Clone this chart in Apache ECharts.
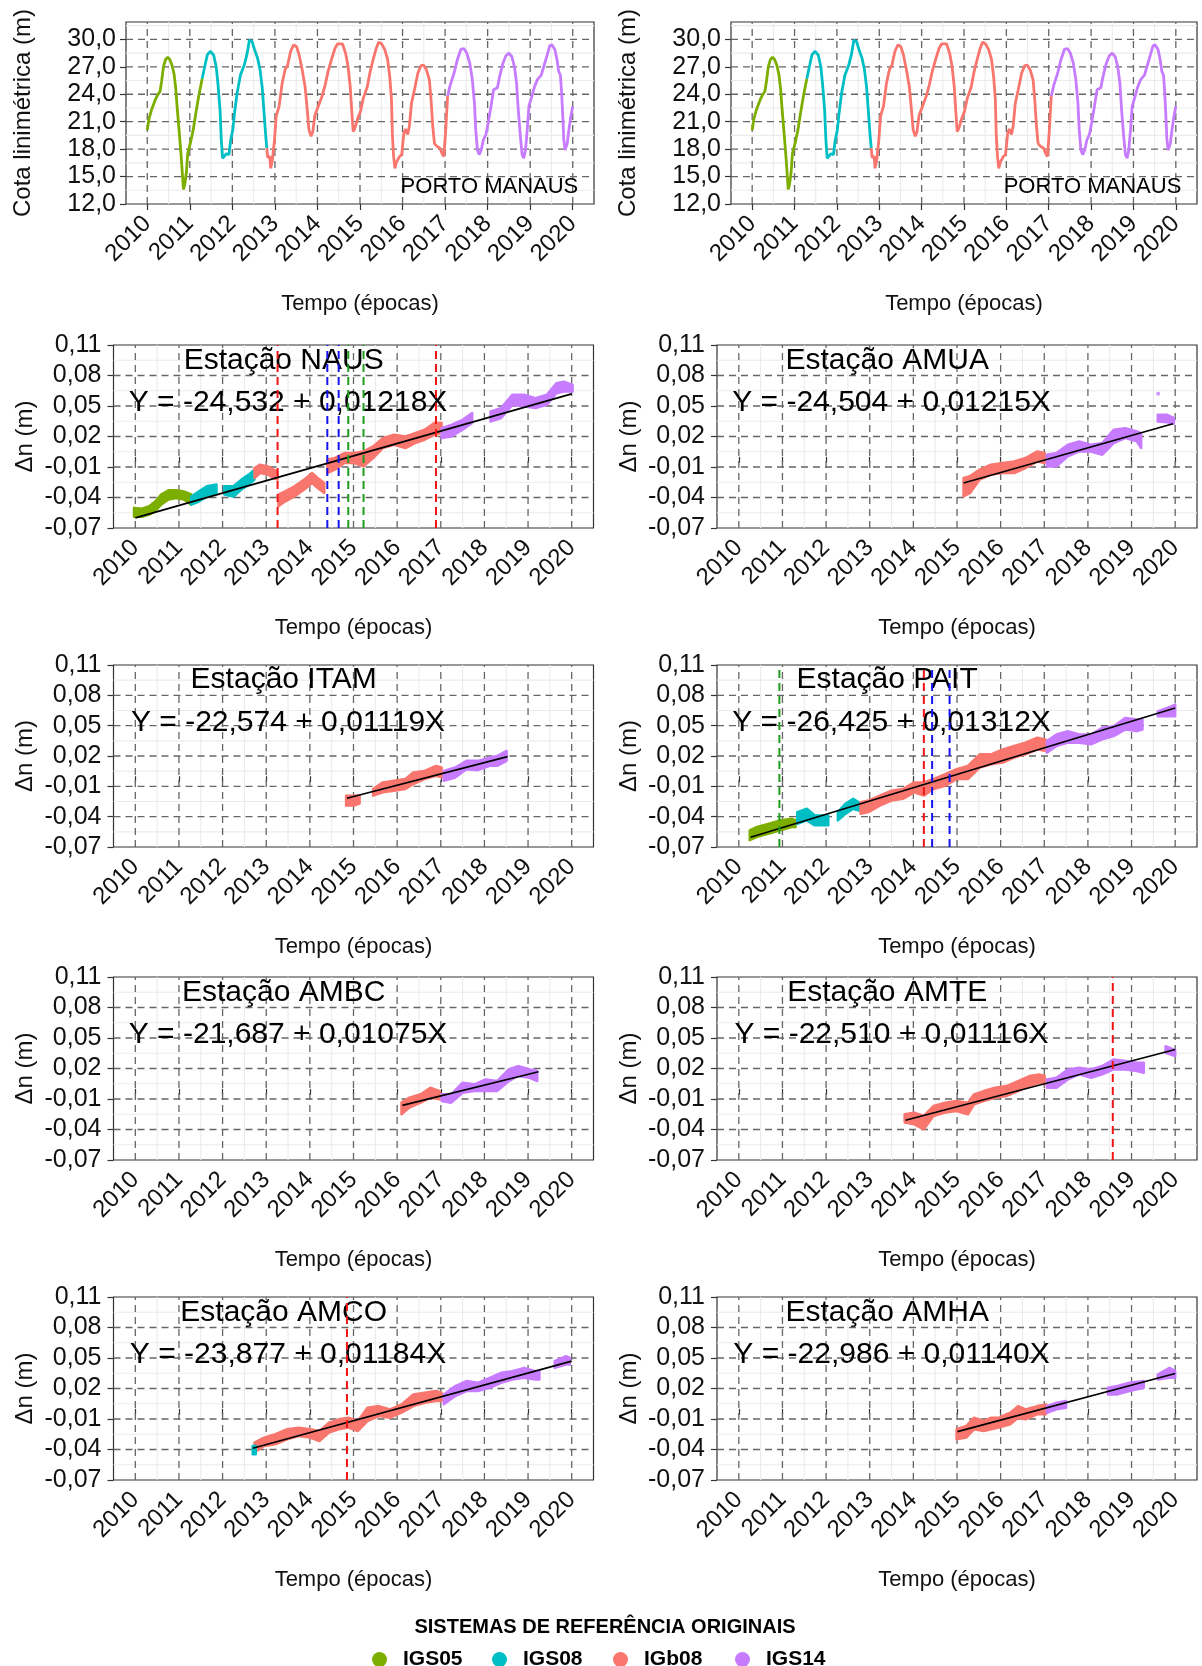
<!DOCTYPE html>
<html>
<head>
<meta charset="utf-8">
<script src="https://cdn.jsdelivr.net/npm/echarts@6/dist/echarts.min.js"></script>
<style>
html, body { margin: 0; padding: 0; background: #fff; }
#c { width: 1202px; height: 1666px; }
</style>
</head>
<body>
<div id="c"></div>
<script>
// ---------- tick labels ----------
const YEARS = [2010, 2011, 2012, 2013, 2014, 2015, 2016, 2017, 2018, 2019, 2020];
const COTA_TICKS = [12, 15, 18, 21, 24, 27, 30];
const DN_TICKS = [-0.07, -0.04, -0.01, 0.02, 0.05, 0.08, 0.11];
const FRAMES = ['IGS05', 'IGS08', 'IGb08', 'IGS14'];

// ---------- water level at Porto Manaus: [year, level (m)] ----------
const cotaIGS05 = [[2010.00,20.1],[2010.04,21.3],[2010.10,22.3],[2010.18,23.3],[2010.24,23.9],[2010.30,24.3],[2010.34,25.5],[2010.38,27.0],[2010.43,27.8],[2010.48,28.05],[2010.53,27.8],[2010.58,27.2],[2010.63,26.2],[2010.67,24.6],[2010.70,22.7],[2010.74,20.5],[2010.77,18.8],[2010.80,17.0],[2010.83,15.0],[2010.85,13.6],[2010.88,14.1],[2010.92,15.5],[2010.95,17.5],[2011.01,18.6],[2011.08,20.1],[2011.14,21.9],[2011.21,23.8],[2011.29,25.7]];
const cotaIGS08 = [[2011.29,25.7],[2011.35,27.0],[2011.41,28.3],[2011.48,28.7],[2011.56,28.3],[2011.62,27.0],[2011.66,25.2],[2011.71,22.3],[2011.74,19.0],[2011.77,17.0],[2011.81,16.8],[2011.86,17.5],[2011.92,17.4],[2011.96,19.0],[2012.01,20.1],[2012.05,21.9],[2012.11,24.1],[2012.19,26.1],[2012.28,27.2],[2012.34,28.3],[2012.40,29.9],[2012.46,29.8],[2012.52,28.9],[2012.59,28.0],[2012.65,26.7],[2012.70,24.8],[2012.74,22.3],[2012.78,19.7],[2012.81,18.1]];
const cotaIGb08 = [[2012.81,18.1],[2012.83,17.1],[2012.88,17.2],[2012.90,15.9],[2012.94,16.8],[2012.99,19.0],[2013.03,21.6],[2013.10,22.7],[2013.17,25.2],[2013.24,26.7],[2013.30,27.2],[2013.37,28.7],[2013.44,29.4],[2013.51,29.2],[2013.57,28.3],[2013.64,26.7],[2013.71,24.8],[2013.76,22.3],[2013.80,20.1],[2013.85,19.4],[2013.89,19.9],[2013.94,21.7],[2014.02,22.7],[2014.11,23.8],[2014.18,25.0],[2014.25,26.5],[2014.33,27.8],[2014.41,29.0],[2014.47,29.5],[2014.59,29.5],[2014.66,28.5],[2014.72,27.0],[2014.77,24.8],[2014.81,21.9],[2014.84,19.9],[2014.88,20.3],[2014.95,21.4],[2015.01,22.1],[2015.08,23.6],[2015.17,24.8],[2015.24,26.5],[2015.31,27.8],[2015.38,29.0],[2015.44,29.7],[2015.51,29.5],[2015.58,28.9],[2015.65,27.8],[2015.70,25.9],[2015.74,23.4],[2015.76,19.7],[2015.79,17.2],[2015.82,15.9],[2015.86,16.6],[2015.93,17.2],[2015.98,17.4],[2016.03,19.7],[2016.07,20.2],[2016.12,19.6],[2016.16,20.5],[2016.21,23.0],[2016.28,24.5],[2016.36,26.3],[2016.43,27.1],[2016.49,27.2],[2016.56,26.7],[2016.63,25.6],[2016.67,23.4],[2016.71,20.5],[2016.75,18.6],[2016.81,18.3],[2016.88,18.1],[2016.93,17.5],[2016.97,17.2],[2017.01,19.7],[2017.06,23.8]];
const cotaIGS14 = [[2017.06,23.8],[2017.12,25.0],[2017.21,26.3],[2017.29,27.8],[2017.37,28.9],[2017.44,29.0],[2017.51,28.5],[2017.58,27.4],[2017.64,25.6],[2017.69,23.0],[2017.72,20.1],[2017.76,17.9],[2017.80,17.4],[2017.85,17.9],[2017.90,19.0],[2017.96,19.6],[2018.01,20.8],[2018.08,22.7],[2018.14,24.5],[2018.23,24.7],[2018.28,25.9],[2018.36,27.4],[2018.43,28.2],[2018.50,28.5],[2018.57,28.1],[2018.63,27.0],[2018.68,25.2],[2018.72,22.3],[2018.77,19.4],[2018.81,17.4],[2018.85,17.0],[2018.89,17.9],[2018.93,20.1],[2018.97,22.7],[2019.04,23.8],[2019.10,24.8],[2019.17,25.6],[2019.26,26.1],[2019.33,27.2],[2019.40,28.3],[2019.46,29.3],[2019.51,29.4],[2019.58,28.9],[2019.63,27.8],[2019.67,26.5],[2019.71,26.1],[2019.74,24.1],[2019.77,21.2],[2019.79,19.0],[2019.82,17.9],[2019.87,18.6],[2019.91,20.1],[2019.95,21.4],[2020.00,22.7]];

// ---------- station series: [year, lower Δn, upper Δn] (m) ----------
const nausIGS05 = [[2009.97,-0.059,-0.0502],[2010.15,-0.059,-0.051],[2010.32,-0.0568,-0.0486],[2010.46,-0.0535,-0.0437],[2010.59,-0.047,-0.0372],[2010.76,-0.042,-0.0329],[2010.94,-0.0404,-0.0329],[2011.11,-0.042,-0.034],[2011.28,-0.047,-0.037]];
const nausIGS08a = [[2011.28,-0.047,-0.039],[2011.46,-0.044,-0.034],[2011.64,-0.039,-0.029],[2011.86,-0.0355,-0.0273]];
const nausIGS08b = [[2012.04,-0.037,-0.029],[2012.25,-0.039,-0.029],[2012.43,-0.0322,-0.0224],[2012.60,-0.0273,-0.0175],[2012.73,-0.0224,-0.0126]];
const nausIGb08a = [[2012.73,-0.0208,-0.011],[2012.86,-0.0159,-0.0077],[2013.04,-0.0175,-0.0094],[2013.17,-0.0208,-0.0126],[2013.26,-0.0224,-0.0143]];
const nausIGb08b = [[2013.28,-0.0486,-0.0372],[2013.43,-0.044,-0.034],[2013.65,-0.039,-0.029],[2013.87,-0.0322,-0.0224],[2014.05,-0.0257,-0.0159],[2014.18,-0.0306,-0.0208],[2014.33,-0.0355,-0.0257]];
const nausIGb08c = [[2014.40,-0.0159,-0.0028],[2014.57,-0.0126,-0.0012],[2014.79,-0.0061,0.0037],[2015.01,-0.0061,0.0037],[2015.23,-0.0094,0.0053],[2015.45,-0.0012,0.0102],[2015.67,0.0086,0.0184],[2015.93,0.0119,0.0217],[2016.19,0.0086,0.020],[2016.41,0.0135,0.0233],[2016.63,0.0168,0.0266],[2016.85,0.0217,0.0332],[2017.02,0.0233,0.0332]];
const nausIGS14a = [[2017.02,0.0184,0.0282],[2017.24,0.020,0.0315],[2017.50,0.0266,0.0364],[2017.72,0.0332,0.043]];
const nausIGS14b = [[2018.14,0.0348,0.0446],[2018.38,0.0381,0.0479],[2018.64,0.0511,0.061],[2018.91,0.0495,0.061],[2019.17,0.0479,0.0577],[2019.43,0.0511,0.061],[2019.65,0.0626,0.0724],[2019.82,0.0642,0.074],[2020.02,0.0642,0.0708]];
const nausTrend = [[2010.0,-0.060],[2020.0,0.0619]];

const amuaIGb08 = [[2015.15,-0.0388,-0.0208],[2015.30,-0.0355,-0.019],[2015.52,-0.0224,-0.0126],[2015.78,-0.0175,-0.0077],[2016.05,-0.0159,-0.006],[2016.31,-0.0159,-0.0045],[2016.57,-0.011,-0.0012],[2016.84,-0.0045,0.0053],[2017.01,-0.0061,0.0037]];
const amuaIGS14a = [[2017.06,-0.0094,0.002],[2017.28,-0.0094,0.0037],[2017.54,0.0004,0.0119],[2017.80,0.0053,0.0152],[2018.07,0.0053,0.0119],[2018.33,0.0021,0.0135],[2018.59,0.0135,0.0266],[2018.86,0.0184,0.0282],[2019.12,0.0152,0.025],[2019.22,0.0086,0.0233]];
const amuaIGS14b = [[2019.60,0.0348,0.0413],[2019.82,0.034,0.0413],[2019.97,0.0325,0.038]];
const amuaIGS14Outliers = [[2019.61,0.062]];
const amuaTrend = [[2015.15,-0.0257],[2019.95,0.0325]];

const itamIGb08a = [[2014.83,-0.029,-0.0192],[2015.01,-0.029,-0.0192],[2015.14,-0.027,-0.019]];
const itamIGb08b = [[2015.45,-0.0192,-0.0126],[2015.67,-0.0159,-0.0061],[2015.93,-0.0143,-0.0045],[2016.19,-0.0126,-0.0028],[2016.37,-0.0077,0.0037],[2016.63,-0.0028,0.0053],[2016.89,0.0004,0.0102],[2017.02,-0.001,0.0086]];
const itamIGS14 = [[2017.07,-0.0045,0.0053],[2017.33,-0.0012,0.0086],[2017.59,0.007,0.0152],[2017.85,0.006,0.0152],[2018.12,0.0103,0.0184],[2018.29,0.0103,0.020],[2018.51,0.0152,0.025]];
const itamTrend = [[2014.85,-0.0218],[2018.53,0.0194]];

const paitIGS05 = [[2010.25,-0.0633,-0.0535],[2010.42,-0.060,-0.0502],[2010.69,-0.0568,-0.047],[2010.95,-0.0535,-0.0437],[2011.21,-0.0502,-0.042],[2011.30,-0.0502,-0.0437]];
const paitIGS08a = [[2011.34,-0.047,-0.0355],[2011.56,-0.0437,-0.0322],[2011.74,-0.0486,-0.0388],[2012.05,-0.0486,-0.0388]];
const paitIGS08b = [[2012.27,-0.0437,-0.0355],[2012.44,-0.0372,-0.0273],[2012.62,-0.0322,-0.0224],[2012.75,-0.0339,-0.0257]];
const paitIGb08 = [[2012.79,-0.0372,-0.0257],[2012.97,-0.0355,-0.0241],[2013.23,-0.029,-0.0192],[2013.50,-0.0241,-0.0143],[2013.76,-0.0224,-0.0126],[2014.02,-0.0159,-0.0061],[2014.24,-0.0192,-0.0061],[2014.46,-0.0126,-0.0028],[2014.73,-0.0094,0.002],[2014.99,-0.0028,0.007],[2015.25,-0.0028,0.0102],[2015.52,0.0086,0.0217],[2015.78,0.0119,0.0217],[2016.05,0.0135,0.0266],[2016.31,0.0184,0.0299],[2016.57,0.0217,0.0332],[2016.84,0.0266,0.0381],[2017.03,0.025,0.0364]];
const paitIGS14a = [[2017.06,0.0233,0.0348],[2017.28,0.0299,0.0413],[2017.54,0.0332,0.0446],[2017.80,0.0332,0.0413],[2018.07,0.0315,0.0413],[2018.33,0.0364,0.0479],[2018.59,0.0397,0.0495],[2018.86,0.0462,0.0577],[2019.12,0.0446,0.0562],[2019.25,0.0462,0.0562]];
const paitIGS14b = [[2019.60,0.0593,0.0642],[2019.82,0.0593,0.0675],[2020.00,0.0593,0.0708]];
const paitTrend = [[2010.27,-0.0604],[2020.0,0.0675]];

const ambcIGb08 = [[2016.10,-0.025,-0.0136],[2016.28,-0.0185,-0.0087],[2016.54,-0.0136,-0.0054],[2016.76,-0.0087,0.0011],[2016.98,-0.0103,-0.0022]];
const ambcIGS14 = [[2017.02,-0.012,-0.0054],[2017.24,-0.0136,-0.0054],[2017.50,-0.0038,0.006],[2017.77,-0.0022,0.0044],[2018.03,-0.0022,0.0093],[2018.29,-0.0022,0.0076],[2018.56,0.0076,0.0191],[2018.77,0.0126,0.0224],[2019.04,0.0109,0.0191],[2019.21,0.0076,0.0175]];
const ambcTrend = [[2016.12,-0.0162],[2019.24,0.0168]];

const amteIGb08 = [[2013.80,-0.0332,-0.025],[2014.02,-0.0349,-0.0234],[2014.24,-0.0398,-0.0267],[2014.46,-0.0267,-0.0169],[2014.73,-0.0234,-0.0136],[2014.99,-0.0218,-0.012],[2015.25,-0.025,-0.0136],[2015.39,-0.0152,-0.0054],[2015.61,-0.012,-0.0022],[2015.87,-0.0087,0.0011],[2016.13,-0.0071,0.0027],[2016.40,-0.0022,0.0076],[2016.66,0.0027,0.0126],[2016.88,0.006,0.0142],[2017.01,0.0044,0.0126]];
const amteIGS14a = [[2017.06,0.0011,0.0093],[2017.28,0.0011,0.0109],[2017.54,0.0093,0.0191],[2017.80,0.0142,0.0207],[2018.07,0.0109,0.0191],[2018.33,0.0142,0.0224],[2018.59,0.0191,0.0289],[2018.86,0.0191,0.0273],[2019.12,0.0175,0.0256],[2019.28,0.0158,0.0256]];
const amteIGS14b = [[2019.78,0.0354,0.042],[2020.00,0.0322,0.038]];
const amteTrend = [[2013.82,-0.0309],[2020.0,0.0387]];

const amcoIGS08 = [[2012.69,-0.0447,-0.0365],[2012.76,-0.0447,-0.0365]];
const amcoIGb08 = [[2012.73,-0.043,-0.0332],[2012.95,-0.0365,-0.0283],[2013.21,-0.0349,-0.025],[2013.48,-0.030,-0.0201],[2013.74,-0.0267,-0.0185],[2014.00,-0.0283,-0.0201],[2014.22,-0.0316,-0.0218],[2014.44,-0.0234,-0.0136],[2014.66,-0.0201,-0.0103],[2014.88,-0.0185,-0.0087],[2015.10,-0.0218,-0.012],[2015.32,-0.012,0.0011],[2015.58,-0.0071,0.0027],[2015.84,-0.0087,-0.0005],[2016.10,-0.0038,0.0044],[2016.37,0.0027,0.0142],[2016.63,0.006,0.0158],[2016.89,0.0076,0.0175],[2017.02,0.0076,0.0158]];
const amcoIGS14a = [[2017.07,0.0044,0.0142],[2017.33,0.0126,0.0224],[2017.59,0.0175,0.0273],[2017.85,0.0175,0.0256],[2018.12,0.0207,0.0305],[2018.38,0.0256,0.0354],[2018.64,0.0289,0.0371],[2018.91,0.0305,0.0403],[2019.17,0.0289,0.0371],[2019.26,0.0289,0.0371]];
const amcoIGS14b = [[2019.61,0.0403,0.0469],[2019.87,0.0436,0.0518],[2019.96,0.0436,0.0502]];
const amcoTrend = [[2012.69,-0.0388],[2020.0,0.0469]];

const amhaIGb08 = [[2014.99,-0.030,-0.0201],[2015.21,-0.0283,-0.0169],[2015.39,-0.0201,-0.0087],[2015.61,-0.0218,-0.012],[2015.78,-0.0201,-0.0087],[2015.96,-0.0185,-0.0087],[2016.22,-0.0152,-0.0038],[2016.40,-0.0087,0.0027],[2016.57,-0.0103,-0.0005],[2016.84,-0.0054,0.0027],[2017.04,-0.0054,0.0044]];
const amhaIGS14a = [[2017.06,-0.0038,0.0027],[2017.28,-0.0005,0.006],[2017.50,0.0011,0.0076]];
const amhaIGS14b = [[2018.46,0.0142,0.0207],[2018.68,0.0142,0.0224],[2018.95,0.0175,0.0256],[2019.28,0.0207,0.0273]];
const amhaIGS14c = [[2019.60,0.0289,0.0338],[2019.87,0.0305,0.0403],[2020.00,0.0305,0.0371]];
const amhaTrend = [[2015.01,-0.0224],[2020.0,0.0348]];

// epochs of discontinuities (vertical markers), by colour
const nausBreaks = { red: [2013.26, 2016.89], blue: [2014.40, 2014.66], green: [2014.88, 2015.23] };
const paitBreaks = { green: [2010.93], red: [2014.24], blue: [2014.43, 2014.83] };
const amteBreaks = { red: [2018.57] };
const amcoBreaks = { red: [2014.85] };

const stationNames = ['NAUS', 'AMUA', 'ITAM', 'PAIT', 'AMBC', 'AMTE', 'AMCO', 'AMHA'];
const equations = [
  'Y = -24,532 + 0,01218X', 'Y = -24,504 + 0,01215X',
  'Y = -22,574 + 0,01119X', 'Y = -26,425 + 0,01312X',
  'Y = -21,687 + 0,01075X', 'Y = -22,510 + 0,01116X',
  'Y = -23,877 + 0,01184X', 'Y = -22,986 + 0,01140X'
];

// ---------- styling & layout ----------
const FONT = '"Liberation Sans", Arial, Helvetica, sans-serif';
const COLORS = { IGS05: '#7CAE00', IGS08: '#00BFC4', IGb08: '#F8766D', IGS14: '#C77CFF' };
const BREAK_COLORS = { red: '#F01414', blue: '#1414F0', green: '#1E9E1E' };
const X_MIN = 2009.5, X_MAX = 2020.5;
const COTA_MIN = 12, COTA_MAX = 31.9;
const DN_MIN = -0.07, DN_MAX = 0.11;

const LAYOUT = [
  { left: 126, top: 22, width: 468, height: 182 },
  { left: 731, top: 22, width: 466, height: 182 },
  { left: 113.5, top: 345, width: 480, height: 183 },
  { left: 717, top: 345, width: 480, height: 183 },
  { left: 113.5, top: 665, width: 480, height: 182 },
  { left: 717, top: 665, width: 480, height: 182 },
  { left: 113.5, top: 977, width: 480, height: 183 },
  { left: 717, top: 977, width: 480, height: 183 },
  { left: 113.5, top: 1297, width: 480, height: 183 },
  { left: 717, top: 1297, width: 480, height: 183 }
];
const LEGEND_LEFT = [372, 492, 613, 735];

const stations = [
  { bands: [['IGS05', nausIGS05], ['IGS08', nausIGS08a], ['IGS08', nausIGS08b], ['IGb08', nausIGb08a], ['IGb08', nausIGb08b], ['IGb08', nausIGb08c], ['IGS14', nausIGS14a], ['IGS14', nausIGS14b]], trend: nausTrend, breaks: nausBreaks },
  { bands: [['IGb08', amuaIGb08], ['IGS14', amuaIGS14a], ['IGS14', amuaIGS14b]], trend: amuaTrend, dots: amuaIGS14Outliers },
  { bands: [['IGb08', itamIGb08a], ['IGb08', itamIGb08b], ['IGS14', itamIGS14]], trend: itamTrend },
  { bands: [['IGS05', paitIGS05], ['IGS08', paitIGS08a], ['IGS08', paitIGS08b], ['IGb08', paitIGb08], ['IGS14', paitIGS14a], ['IGS14', paitIGS14b]], trend: paitTrend, breaks: paitBreaks },
  { bands: [['IGb08', ambcIGb08], ['IGS14', ambcIGS14]], trend: ambcTrend },
  { bands: [['IGb08', amteIGb08], ['IGS14', amteIGS14a], ['IGS14', amteIGS14b]], trend: amteTrend, breaks: amteBreaks },
  { bands: [['IGb08', amcoIGb08], ['IGS08', amcoIGS08], ['IGS14', amcoIGS14a], ['IGS14', amcoIGS14b]], trend: amcoTrend, breaks: amcoBreaks },
  { bands: [['IGb08', amhaIGb08], ['IGS14', amhaIGS14a], ['IGS14', amhaIGS14b], ['IGS14', amhaIGS14c]], trend: amhaTrend }
];

const fmt = (v, d) => v.toFixed(d).replace('.', ',');

function xAxisCfg(gi) {
  return {
    type: 'value', gridIndex: gi, min: X_MIN, max: X_MAX,
    axisLine: { show: false }, splitLine: { show: false },
    axisTick: { show: true, customValues: YEARS, length: 6, lineStyle: { color: '#333', width: 1.2 } },
    axisLabel: { customValues: YEARS, rotate: 45, margin: 16, fontSize: 24, color: '#111', fontFamily: FONT, formatter: v => String(Math.round(v)) },
    name: 'Tempo (épocas)', nameLocation: 'middle', nameGap: 89, nameMoveOverlap: false,
    nameTextStyle: { fontSize: 22, color: '#111', fontFamily: FONT }
  };
}

function yAxisCfg(gi, ticks, min, max, decimals, title, gap, margin) {
  return {
    type: 'value', gridIndex: gi, min: min, max: max,
    axisLine: { show: false }, splitLine: { show: false },
    axisTick: { show: true, customValues: ticks, length: 6, lineStyle: { color: '#333', width: 1.2 } },
    axisLabel: { customValues: ticks, margin: margin, fontSize: 25, color: '#111', fontFamily: FONT, formatter: v => fmt(v, decimals) },
    name: title, nameLocation: 'middle', nameGap: gap, nameMoveOverlap: false,
    nameTextStyle: { fontSize: 24, color: '#111', fontFamily: FONT }
  };
}

// background grid: light solid minor lines under dashed major lines
function gridSeries(gi, yTicks, yMin, yMax) {
  const yStep = yTicks[1] - yTicks[0];
  const xMinor = YEARS.map(y => y + 0.5).filter(v => v < X_MAX - 1e-9);
  const yMinor = yTicks.map(t => t + yStep / 2).filter(v => v < yMax - 1e-9);
  const data = [];
  xMinor.forEach(v => data.push([v, yMin, 1]));
  yMinor.forEach(v => data.push([X_MIN, v, 3]));
  YEARS.forEach(v => data.push([v, yMin, 0]));
  yTicks.forEach(v => { if (v > yMin + 1e-9 && v < yMax - 1e-9) data.push([X_MIN, v, 2]); });
  return {
    type: 'custom', xAxisIndex: gi, yAxisIndex: gi, z: 1, silent: true,
    encode: { x: 0, y: 1 }, data: data,
    renderItem(params, api) {
      const k = api.value(2);
      let a, b;
      if (k < 2) { const x = api.value(0); a = api.coord([x, yMin]); b = api.coord([x, yMax]); }
      else { const y = api.value(1); a = api.coord([X_MIN, y]); b = api.coord([X_MAX, y]); }
      const minor = (k % 2) === 1;
      return {
        type: 'line', shape: { x1: a[0], y1: a[1], x2: b[0], y2: b[1] },
        style: minor ? { stroke: '#EBEBEB', lineWidth: 1.1 } : { stroke: '#666666', lineWidth: 1.3, lineDash: [7, 5] }
      };
    }
  };
}

// filled cloud of daily solutions between lower and upper envelopes
function bandSeries(gi, frame, pts, z) {
  const col = COLORS[frame];
  return {
    type: 'custom', name: frame, xAxisIndex: gi, yAxisIndex: gi, z: z, silent: true,
    itemStyle: { color: col }, encode: { x: 0, y: [1, 2] }, data: pts,
    renderItem(params, api) {
      if (params.dataIndex !== 0) return null;
      const upper = pts.map(p => api.coord([p[0], p[2]]));
      const lower = pts.map(p => api.coord([p[0], p[1]])).reverse();
      return {
        type: 'polygon', shape: { points: upper.concat(lower) },
        style: { fill: col, stroke: col, lineWidth: 2.5, lineJoin: 'round' }
      };
    }
  };
}

function breakSeries(gi, colorKey, xs) {
  const col = BREAK_COLORS[colorKey];
  return {
    type: 'custom', xAxisIndex: gi, yAxisIndex: gi, z: 7, silent: true,
    encode: { x: 0, y: 1 }, data: xs.map(x => [x, DN_MIN]),
    renderItem(params, api) {
      const x = api.value(0);
      const a = api.coord([x, DN_MIN]), b = api.coord([x, DN_MAX]);
      return { type: 'line', shape: { x1: a[0], y1: a[1], x2: b[0], y2: b[1] }, style: { stroke: col, lineWidth: 2, lineDash: [8, 5] } };
    }
  };
}

const grids = [], xAxes = [], yAxes = [], series = [];
LAYOUT.forEach((L, i) => {
  grids.push(Object.assign({}, L, { show: true, backgroundColor: '#fff', borderColor: '#333', borderWidth: 1.2, containLabel: false, outerBoundsMode: 'none' }));
  xAxes.push(xAxisCfg(i));
});

// water level panels (same series on both)
[0, 1].forEach(gi => {
  yAxes.push(yAxisCfg(gi, COTA_TICKS, COTA_MIN, COTA_MAX, 1, 'Cota linimétrica (m)', 91, 10));
  series.push(gridSeries(gi, COTA_TICKS, COTA_MIN, COTA_MAX));
  [['IGS05', cotaIGS05], ['IGS08', cotaIGS08], ['IGb08', cotaIGb08], ['IGS14', cotaIGS14]].forEach(([f, d]) => {
    series.push({
      type: 'line', name: f, xAxisIndex: gi, yAxisIndex: gi, z: 3, silent: true,
      data: d, showSymbol: false, symbol: 'none',
      itemStyle: { color: COLORS[f] }, lineStyle: { color: COLORS[f], width: 2.8 }
    });
  });
});

// station panels
stations.forEach((s, k) => {
  const gi = k + 2;
  yAxes.push(yAxisCfg(gi, DN_TICKS, DN_MIN, DN_MAX, 2, 'Δn (m)', 76, 12));
  series.push(gridSeries(gi, DN_TICKS, DN_MIN, DN_MAX));
  s.bands.forEach(([f, d], j) => series.push(bandSeries(gi, f, d, 3 + j * 0.01)));
  if (s.dots) {
    series.push({ type: 'scatter', name: 'IGS14', xAxisIndex: gi, yAxisIndex: gi, z: 3, silent: true, data: s.dots, symbolSize: 4, itemStyle: { color: COLORS.IGS14 } });
  }
  series.push({
    type: 'line', xAxisIndex: gi, yAxisIndex: gi, z: 5, silent: true,
    data: s.trend, showSymbol: false, symbol: 'none', lineStyle: { color: '#000', width: 1.7 }
  });
  if (s.breaks) Object.keys(s.breaks).forEach(c => series.push(breakSeries(gi, c, s.breaks[c])));
});

// one legend block per reference frame, laid out on a fixed pitch
const legends = FRAMES.map((n, i) => ({
  data: [{ name: n, icon: 'circle', itemStyle: { color: COLORS[n] } }],
  left: LEGEND_LEFT[i], top: 1649, padding: 0, itemWidth: 15, itemHeight: 15, selectedMode: false,
  textStyle: { fontFamily: FONT, fontSize: 21, fontWeight: 'bold', color: '#000', padding: [0, 0, 0, 11] }
}));

const chart = echarts.init(document.getElementById('c'), null, { renderer: 'canvas', width: 1202, height: 1666 });
chart.setOption({
  animation: false,
  backgroundColor: '#fff',
  textStyle: { fontFamily: FONT },
  grid: grids, xAxis: xAxes, yAxis: yAxes, series: series,
  legend: legends
});

// annotations placed in data coordinates of each panel
const texts = [];
[0, 1].forEach(gi => {
  const p = chart.convertToPixel({ gridIndex: gi }, [2020.13, 13.9]);
  texts.push({ type: 'text', x: p[0], y: p[1], z: 4, style: { text: 'PORTO MANAUS', fontSize: 22, fontFamily: FONT, fill: '#000', align: 'right', verticalAlign: 'middle' } });
});
stationNames.forEach((name, k) => {
  const gi = k + 2;
  const p1 = chart.convertToPixel({ gridIndex: gi }, [2013.4, 0.095]);
  const p2 = chart.convertToPixel({ gridIndex: gi }, [2013.5, 0.053]);
  texts.push({ type: 'text', x: p1[0], y: p1[1], z: 4, style: { text: 'Estação ' + name, fontSize: 30, fontFamily: FONT, fill: '#000', align: 'center', verticalAlign: 'middle' } });
  texts.push({ type: 'text', x: p2[0], y: p2[1], z: 4, style: { text: equations[k], fontSize: 30, fontFamily: FONT, fill: '#000', align: 'center', verticalAlign: 'middle' } });
});
texts.push({ type: 'text', x: 605, y: 1627, z: 4, style: { text: 'SISTEMAS DE REFERÊNCIA ORIGINAIS', fontSize: 20, fontWeight: 'bold', fontFamily: FONT, fill: '#000', align: 'center', verticalAlign: 'middle' } });
chart.setOption({ graphic: { elements: texts } });
</script>
</body>
</html>
